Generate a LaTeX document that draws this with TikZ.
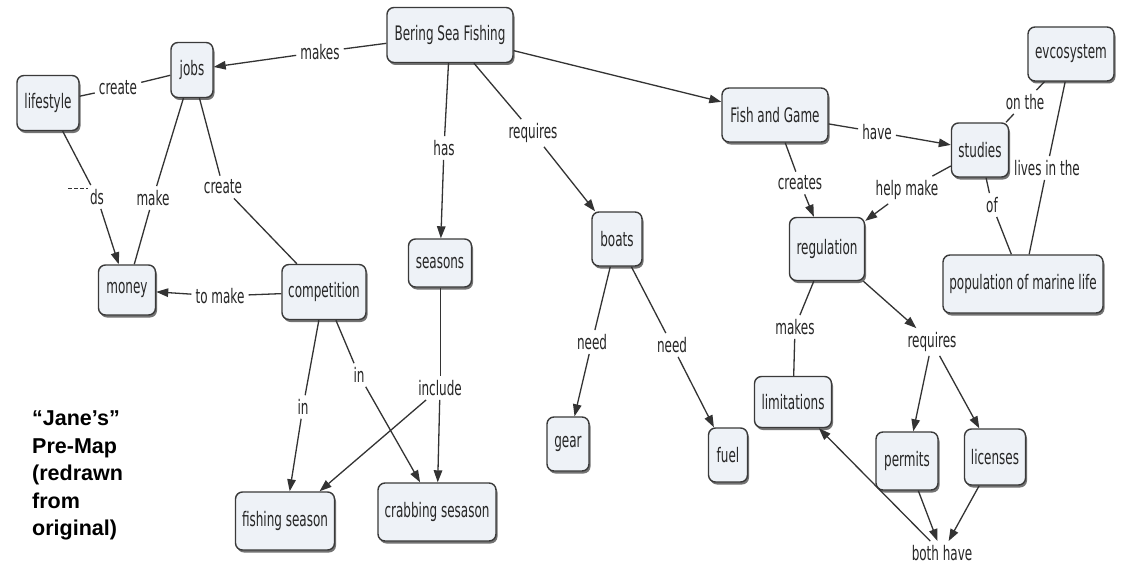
\documentclass[tikz,border=0pt]{standalone}
\usepackage{fontspec}
\setmainfont{DejaVu Sans}
\newfontfamily\cmapfont[FakeStretch=0.6]{DejaVu Sans}
\newfontfamily\notefont{Liberation Sans}
\usetikzlibrary{shadows,arrows.meta}
\definecolor{boxfill}{HTML}{EEF2F7}
\definecolor{boxline}{HTML}{3A3A3A}
\definecolor{linkcol}{HTML}{333333}
\begin{document}
\begin{tikzpicture}[x=1pt,y=-1pt,
  concept/.style={draw=boxline, line width=1.4pt, fill=boxfill, rounded corners=7pt,
    inner sep=0pt, font=\cmapfont\fontsize{20}{22}\selectfont, text=black!85,
    drop shadow={shadow xshift=1.5pt, shadow yshift=-2.5pt, fill=black!55, opacity=1}},
  lbl/.style={inner sep=4pt, font=\cmapfont\fontsize{20}{22}\selectfont, text=black!85},
  link/.style={draw=linkcol, line width=1.3pt},
  arr/.style={link, -{Triangle[length=12pt,width=8.5pt]}},
]
\useasboundingbox[fill=white] (0,0) rectangle (1123,567);

% concepts
\node[concept, minimum width=126pt, minimum height=55pt] (bsf) at (450,35) {Bering Sea Fishing};
\node[concept, minimum width=42pt, minimum height=55pt] (jobs) at (192,70) {jobs};
\node[concept, minimum width=62pt, minimum height=55pt] (lifestyle) at (48,103) {lifestyle};
\node[concept, minimum width=57pt, minimum height=50pt] (money) at (127,290) {money};
\node[concept, minimum width=84pt, minimum height=55pt] (competition) at (324,292) {competition};
\node[concept, minimum width=63pt, minimum height=48pt] (seasons) at (440,263) {seasons};
\node[concept, minimum width=50pt, minimum height=54pt] (boats) at (617,239) {boats};
\node[concept, minimum width=42pt, minimum height=54pt] (gear) at (568,444) {gear};
\node[concept, minimum width=39pt, minimum height=54pt] (fuel) at (728,455) {fuel};
\node[concept, minimum width=99pt, minimum height=58pt] (fishing) at (285,521) {fishing season};
\node[concept, minimum width=118pt, minimum height=58pt] (crabbing) at (437,512) {crabbing sesason};
\node[concept, minimum width=106pt, minimum height=54pt] (fg) at (775,115) {Fish and Game};
\node[concept, minimum width=57pt, minimum height=54pt] (studies) at (980,150) {studies};
\node[concept, minimum width=86pt, minimum height=54pt] (eco) at (1071,54) {evcosystem};
\node[concept, minimum width=75pt, minimum height=63pt] (regulation) at (827,249) {regulation};
\node[concept, minimum width=160pt, minimum height=58pt] (population) at (1023,284) {population of marine life};
\node[concept, minimum width=77pt, minimum height=51pt] (limitations) at (793,402) {limitations};
\node[concept, minimum width=62pt, minimum height=58pt] (permits) at (907,461) {permits};
\node[concept, minimum width=61pt, minimum height=56pt] (licenses) at (995,457) {licenses};

% link labels
\node[lbl] (makes) at (320,52) {makes};
\node[lbl] (create1) at (118,88) {create};
\node[lbl] (ds) at (97,197) {ds};
\node[lbl] (make) at (153,198) {make};
\node[lbl] (create2) at (223,187) {create};
\node[lbl] (tomake) at (220,296) {to make};
\node[lbl] (has) at (444,148) {has};
\node[lbl] (requires1) at (533,133) {requires};
\node[lbl] (need1) at (592,342) {need};
\node[lbl] (need2) at (672,345) {need};
\node[lbl] (include) at (440,388) {include};
\node[lbl] (in1) at (303,407) {in};
\node[lbl] (in2) at (359,375) {in};
\node[lbl] (have) at (877,132) {have};
\node[lbl] (onthe) at (1025,102) {on the};
\node[lbl] (livesin) at (1047,168) {lives in the};
\node[lbl] (creates) at (800,183) {creates};
\node[lbl] (helpmake) at (907,190) {help make};
\node[lbl] (of) at (992,205) {of};
\node[lbl] (makes2) at (795,327) {makes};
\node[lbl] (requires2) at (932,342) {requires};
\node[lbl] (bothhave) at (942,553) {both have};

% stray dashes before "ds"
\coordinate (dsA) at (68,188);
\coordinate (dsB) at (88,188);
\draw[linkcol, line width=0.6pt, dash pattern=on 4pt off 2pt] (dsA) -- (dsB);

% connectors
\draw[link] (bsf) -- (makes);
\draw[arr] (makes) -- (jobs);
\draw[link] (lifestyle) -- (create1);
\draw[link] (create1) -- (jobs);
\draw[link] (lifestyle) -- (ds);
\draw[arr] (ds) -- (money);
\draw[link] (jobs) -- (make);
\draw[link] (make) -- (money);
\draw[link] (jobs) -- (create2);
\draw[link] (create2) -- (competition);
\draw[link] (competition) -- (tomake);
\draw[arr] (tomake) -- (money);
\draw[link] (bsf) -- (has);
\draw[arr] (has) -- (seasons);
\draw[link] (bsf) -- (requires1);
\draw[arr] (requires1) -- (boats);
\draw[arr] (bsf) -- (fg);
\draw[link] (boats) -- (need1);
\draw[arr] (need1) -- (gear);
\draw[link] (boats) -- (need2);
\draw[arr] (need2) -- (fuel);
\draw[link, line width=1pt] (seasons) -- (include);
\draw[arr] (include) -- (crabbing);
\draw[arr] (include) -- (fishing);
\draw[link] (competition) -- (in1);
\draw[arr] (in1) -- (fishing);
\draw[link] (competition) -- (in2);
\draw[arr] (in2) -- (crabbing);
\draw[link] (fg) -- (have);
\draw[arr] (have) -- (studies);
\draw[link] (fg) -- (creates);
\draw[arr] (creates) -- (regulation);
\draw[link] (studies) -- (helpmake);
\draw[arr] (helpmake) -- (regulation);
\draw[link] (studies) -- (onthe);
\draw[link] (onthe) -- (eco);
\draw[link] (eco) -- (livesin);
\draw[link] (livesin) -- (population);
\draw[link] (studies) -- (of);
\draw[link] (of) -- (population);
\draw[link] (regulation) -- (makes2);
\draw[link] (makes2) -- (limitations);
\draw[arr] (regulation) -- (requires2);
\draw[arr] (requires2) -- (permits);
\draw[arr] (requires2) -- (licenses);
\draw[arr] (permits) -- (bothhave);
\draw[arr] (licenses) -- (bothhave);
\draw[arr] (bothhave) -- (limitations);

% caption
\node[anchor=north west, inner sep=0pt, align=left,
  font=\notefont\bfseries\fontsize{21.5}{27.5}\selectfont] (caption) at (32,411)
  {“Jane’s”\\Pre-Map\\(redrawn\\from\\original)};
\end{tikzpicture}
\end{document}
